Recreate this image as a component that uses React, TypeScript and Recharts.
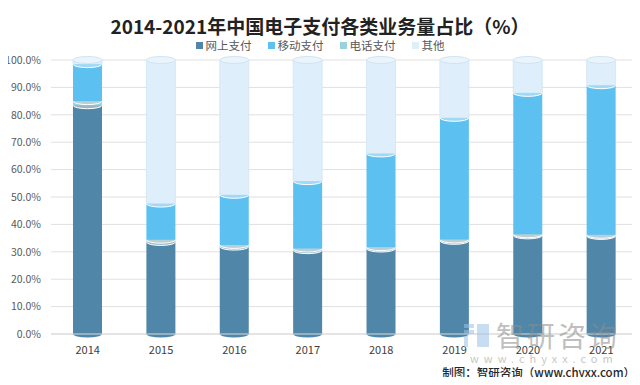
import { Bar, BarChart, CartesianGrid, XAxis, YAxis } from 'recharts';

const years = ['2014', '2015', '2016', '2017', '2018', '2019', '2020', '2021'];
const online = [83.5, 33.6, 31.9, 30.6, 31.2, 34.0, 36.0, 35.8];
const phone = [1.5, 0.8, 0.6, 0.6, 0.5, 0.5, 0.4, 0.4];
const mobile = [13.5, 13.2, 18.3, 24.6, 34.2, 44.4, 51.6, 54.6];
const other = [1.5, 52.4, 49.2, 44.2, 34.1, 21.1, 12.0, 9.2];
const yTicks = [0, 10, 20, 30, 40, 50, 60, 70, 80, 90, 100];

const SERIES = [
  { key: 'online', name: '网上支付', color: '#5087a9', cap: '#9db6c6' },
  { key: 'mobile', name: '移动支付', color: '#5cc1f0', cap: '#9fd9f6' },
  { key: 'phone', name: '电话支付', color: '#98d2da', cap: '#b9cfd6' },
  { key: 'other', name: '其他', color: '#deeefa', cap: '#eaf4fc' },
];

const data = years.map((year, i) => ({
  year,
  online: online[i],
  phone: phone[i],
  mobile: mobile[i],
  other: other[i],
}));

function Cylinder(props: any) {
  const { x, y, width, height, fill, cap, edge, base } = props;
  if (!height || height <= 0) return null;
  const rx = width / 2;
  const ry = 3.5;
  return (
    <g>
      {base && <ellipse cx={x + rx} cy={y + height} rx={rx} ry={ry} fill={fill} />}
      <rect x={x} y={y} width={width} height={height} fill={fill} />
      {edge && <line x1={x} x2={x} y1={y} y2={y + height} stroke={edge} strokeWidth={0.8} />}
      {edge && <line x1={x + width} x2={x + width} y1={y} y2={y + height} stroke={edge} strokeWidth={0.8} />}
      <ellipse cx={x + rx} cy={y} rx={rx} ry={ry} fill={cap} stroke={edge || '#ffffff'} strokeWidth={1} />
    </g>
  );
}

export default function App() {
  const order = ['online', 'phone', 'mobile', 'other'];
  return (
    <div style={{ position: 'relative', width: 640, height: 385, margin: -8, background: '#fff', fontFamily: '"Noto Sans CJK SC", sans-serif' }}>
      <div style={{ position: 'absolute', top: 12, left: 0, width: 640, textAlign: 'center', fontSize: 19, fontWeight: 700, color: '#222', lineHeight: '28px' }}>
        2014-2021年中国电子支付各类业务量占比（%）
      </div>
      <div style={{ position: 'absolute', top: 37, left: 0, width: 640, display: 'flex', justifyContent: 'center', gap: 16, fontSize: 11.5, color: '#595959', lineHeight: '16px' }}>
        {SERIES.map((s) => (
          <span key={s.key} style={{ display: 'flex', alignItems: 'center' }}>
            <span style={{ display: 'inline-block', width: 7, height: 7, background: s.color, marginRight: 3 }} />
            {s.name}
          </span>
        ))}
      </div>
      <BarChart width={640} height={385} data={data} margin={{ top: 60, right: 2, left: 0, bottom: 21 }} barCategoryGap='30%'>
        <CartesianGrid vertical={false} stroke='#e0e0e0' />
        <XAxis dataKey='year' axisLine={{ stroke: '#d9d9d9' }} tickLine={false} tickMargin={6} height={30} tick={{ fontSize: 11, fill: '#404040' }} />
        <YAxis width={51} domain={[0, 100]} ticks={yTicks} axisLine={false} tickLine={false} tickMargin={4} tickFormatter={(v: number) => `${v.toFixed(1)}%`} tick={{ fontSize: 10.5, fill: '#595959' }} />
        {order.map((k) => {
          const s = SERIES.find((d) => d.key === k)!;
          return (
            <Bar
              key={k}
              dataKey={k}
              name={s.name}
              stackId='a'
              fill={s.color}
              isAnimationActive={false}
              shape={(p: any) => (
                <Cylinder {...p} fill={s.color} cap={s.cap} base={k === 'online'} edge={k === 'other' ? '#d2e4f2' : undefined} />
              )}
            />
          );
        })}
      </BarChart>
      <div style={{ position: 'absolute', left: 462, top: 320, display: 'flex', alignItems: 'center', opacity: 0.55, pointerEvents: 'none' }}>
        <svg width={30} height={28}>
          <rect x={2} y={3} width={10} height={4} fill='#9cc3e6' />
          <rect x={2} y={9} width={10} height={4} fill='#9cc3e6' />
          <rect x={2} y={15} width={4} height={11} fill='#9cc3e6' />
          <rect x={15} y={3} width={12} height={23} fill='#9cc3e6' />
        </svg>
        <span style={{ fontSize: 28, color: '#8c8c8c', letterSpacing: 3, marginLeft: 4, lineHeight: '30px' }}>智研咨询</span>
      </div>
      <div style={{ position: 'absolute', left: 470, top: 352, fontSize: 11, color: '#c8c8c8', letterSpacing: 5, lineHeight: '12px', pointerEvents: 'none' }}>
        www.chyxx.com
      </div>
      <div style={{ position: 'absolute', right: 5, top: 363, fontSize: 11.5, color: '#262626', fontWeight: 500, lineHeight: '18px' }}>
        制图：智研咨询（www.chyxx.com）
      </div>
      <div style={{ position: 'absolute', inset: 0, border: '1px solid #a6a6a6', pointerEvents: 'none' }} />
    </div>
  );
}
